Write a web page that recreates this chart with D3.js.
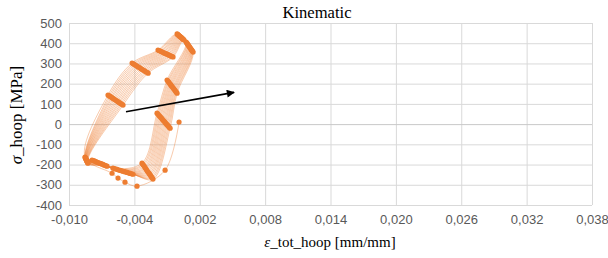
<!DOCTYPE html>
<html>
<head>
<meta charset="utf-8">
<script src="https://cdn.jsdelivr.net/npm/d3@7"></script>
<style>
  body { margin: 0; background: #fff; }
  svg { display: block; }
</style>
</head>
<body>
<svg id="chart"></svg>
<script>
const width = 608;
const height = 258;

// axis ticks
const xTicks = [-0.010, -0.004, 0.002, 0.008, 0.014, 0.020, 0.026, 0.032, 0.038];
const yTicks = [-400, -300, -200, -100, 0, 100, 200, 300, 400, 500];

// first (compressive) branch before the loops, [strain, stress]
const firstBranch = [
    [0.00010, 10], [-0.00118, -228], [-0.00376, -307], [-0.00486, -287],
    [-0.00550, -267], [-0.00605, -243]
];

// hysteresis cycles, each from the bottom-left corner round the loop
const cycle01 = [[-0.00853, -163], [-0.00642, 144], [-0.00421, 302], [-0.00183, 366], [-0.00008, 446], [0.00075, 406], [-0.00100, 218], [-0.00192, 54], [-0.00330, -193], [-0.00596, -218], [-0.00789, -178]];
const cycle02 = [[-0.00851, -165], [-0.00632, 140], [-0.00411, 298], [-0.00173, 364], [-0.00003, 444], [0.00080, 402], [-0.00093, 213], [-0.00183, 49], [-0.00323, -199], [-0.00583, -220], [-0.00779, -180]];
const cycle03 = [[-0.00849, -167], [-0.00622, 137], [-0.00400, 295], [-0.00163, 361], [0.00001, 442], [0.00084, 399], [-0.00087, 209], [-0.00175, 43], [-0.00316, -204], [-0.00570, -222], [-0.00769, -182]];
const cycle04 = [[-0.00847, -169], [-0.00612, 133], [-0.00390, 291], [-0.00153, 359], [0.00006, 440], [0.00089, 395], [-0.00080, 204], [-0.00166, 38], [-0.00308, -210], [-0.00557, -224], [-0.00759, -184]];
const cycle05 = [[-0.00845, -172], [-0.00603, 130], [-0.00379, 288], [-0.00144, 356], [0.00010, 437], [0.00093, 392], [-0.00074, 199], [-0.00158, 33], [-0.00301, -216], [-0.00543, -227], [-0.00750, -187]];
const cycle06 = [[-0.00843, -174], [-0.00593, 126], [-0.00369, 284], [-0.00134, 354], [0.00015, 435], [0.00098, 388], [-0.00067, 195], [-0.00149, 28], [-0.00294, -221], [-0.00530, -229], [-0.00740, -189]];
const cycle07 = [[-0.00841, -176], [-0.00583, 123], [-0.00358, 281], [-0.00124, 351], [0.00019, 433], [0.00102, 385], [-0.00061, 190], [-0.00141, 22], [-0.00287, -227], [-0.00517, -231], [-0.00730, -191]];
const cycle08 = [[-0.00839, -178], [-0.00573, 119], [-0.00348, 277], [-0.00114, 349], [0.00024, 431], [0.00107, 381], [-0.00054, 186], [-0.00132, 17], [-0.00280, -233], [-0.00504, -233], [-0.00720, -193]];
const cycle09 = [[-0.00838, -180], [-0.00563, 115], [-0.00337, 273], [-0.00104, 347], [0.00029, 429], [0.00112, 377], [-0.00047, 181], [-0.00123, 12], [-0.00272, -238], [-0.00491, -235], [-0.00710, -195]];
const cycle10 = [[-0.00836, -182], [-0.00553, 112], [-0.00326, 270], [-0.00094, 344], [0.00033, 427], [0.00116, 374], [-0.00041, 176], [-0.00115, 6], [-0.00265, -244], [-0.00478, -237], [-0.00700, -197]];
const cycle11 = [[-0.00834, -184], [-0.00543, 108], [-0.00316, 266], [-0.00084, 342], [0.00038, 425], [0.00121, 370], [-0.00034, 172], [-0.00106, 1], [-0.00258, -249], [-0.00465, -239], [-0.00690, -199]];
const cycle12 = [[-0.00832, -187], [-0.00534, 105], [-0.00305, 263], [-0.00075, 339], [0.00042, 422], [0.00125, 367], [-0.00028, 167], [-0.00098, -4], [-0.00251, -255], [-0.00451, -242], [-0.00681, -202]];
const cycle13 = [[-0.00830, -189], [-0.00524, 101], [-0.00295, 259], [-0.00065, 337], [0.00047, 420], [0.00130, 363], [-0.00021, 162], [-0.00089, -9], [-0.00243, -261], [-0.00438, -244], [-0.00671, -204]];
const cycle14 = [[-0.00828, -191], [-0.00514, 98], [-0.00284, 256], [-0.00055, 334], [0.00051, 418], [0.00134, 360], [-0.00015, 158], [-0.00081, -15], [-0.00236, -266], [-0.00425, -246], [-0.00661, -206]];
const cycle15 = [[-0.00826, -193], [-0.00504, 94], [-0.00274, 252], [-0.00045, 332], [0.00056, 416], [0.00139, 356], [-0.00008, 153], [-0.00072, -20], [-0.00229, -272], [-0.00412, -248], [-0.00651, -208]];

// ratcheting arrow, [strain, stress]
const arrowFrom = [-0.00477, 61];
const arrowTo = [0.00515, 157];

const cycles = [cycle01, cycle02, cycle03, cycle04, cycle05, cycle06, cycle07, cycle08,
    cycle09, cycle10, cycle11, cycle12, cycle13, cycle14, cycle15];
const series = firstBranch.concat(...cycles);

const margin = {top: 23, right: 16, bottom: 53, left: 69};
const orange = "#ED7D31";

const svg = d3.select("#chart")
    .attr("width", width)
    .attr("height", height)
    .style("background", "#fff");

const x = d3.scaleLinear()
    .domain([xTicks[0], xTicks[xTicks.length - 1]])
    .range([margin.left, width - margin.right]);

const y = d3.scaleLinear()
    .domain([yTicks[0], yTicks[yTicks.length - 1]])
    .range([height - margin.bottom, margin.top]);

const locale = d3.formatLocale({decimal: ",", thousands: ".", grouping: [3], currency: ["", ""], minus: "-"});
const fmtX = locale.format(".3f");
const fmtY = locale.format("d");

// grid
svg.append("g")
    .attr("transform", `translate(0,${height - margin.bottom})`)
    .call(d3.axisBottom(x).tickValues(xTicks).tickSize(-(height - margin.top - margin.bottom)).tickFormat(fmtX).tickPadding(10))
    .call(g => g.select(".domain").remove())
    .call(g => g.selectAll(".tick line").attr("stroke", "#d9d9d9"))
    .call(g => g.selectAll(".tick text")
        .attr("fill", "#595959")
        .style("font", "13px 'Liberation Sans', Arial, sans-serif"));

svg.append("g")
    .attr("transform", `translate(${margin.left},0)`)
    .call(d3.axisLeft(y).tickValues(yTicks).tickSize(-(width - margin.left - margin.right)).tickFormat(fmtY).tickPadding(7))
    .call(g => g.select(".domain").remove())
    .call(g => g.selectAll(".tick line").attr("stroke", d => d === 0 ? "#c8c8c8" : "#d9d9d9"))
    .call(g => g.selectAll(".tick text")
        .attr("fill", "#595959")
        .style("font", "13px 'Liberation Sans', Arial, sans-serif"));

// loops
const line = d3.line()
    .x(d => x(d[0]))
    .y(d => y(d[1]))
    .curve(d3.curveCatmullRom.alpha(0.5));

svg.append("path")
    .datum(series)
    .attr("fill", "none")
    .attr("stroke", orange)
    .attr("stroke-opacity", 0.5)
    .attr("stroke-width", 0.8)
    .attr("d", line);

svg.append("g")
    .selectAll("circle")
    .data(series)
    .enter().append("circle")
    .attr("cx", d => x(d[0]))
    .attr("cy", d => y(d[1]))
    .attr("r", 2.6)
    .attr("fill", orange);

// arrow
svg.append("defs").append("marker")
    .attr("id", "head")
    .attr("viewBox", "0 0 10 10")
    .attr("refX", 9)
    .attr("refY", 5)
    .attr("markerWidth", 9)
    .attr("markerHeight", 8)
    .attr("markerUnits", "userSpaceOnUse")
    .attr("orient", "auto")
    .append("path")
    .attr("d", "M0,0L10,5L0,10Z")
    .attr("fill", "#000");

svg.append("line")
    .attr("x1", x(arrowFrom[0]))
    .attr("y1", y(arrowFrom[1]))
    .attr("x2", x(arrowTo[0]))
    .attr("y2", y(arrowTo[1]))
    .attr("stroke", "#000")
    .attr("stroke-width", 1.6)
    .attr("marker-end", "url(#head)");

// titles
const serif = "'Liberation Serif', 'Times New Roman', serif";

svg.append("text")
    .attr("x", 317)
    .attr("y", 18)
    .attr("text-anchor", "middle")
    .attr("textLength", 69)
    .attr("lengthAdjust", "spacingAndGlyphs")
    .style("font", `17px ${serif}`)
    .attr("fill", "#000")
    .text("Kinematic");

const xl = svg.append("text")
    .attr("x", 330)
    .attr("y", 247)
    .attr("text-anchor", "middle")
    .style("font", `15px ${serif}`)
    .attr("fill", "#000");
xl.append("tspan").style("font-style", "italic").text("ε");
xl.append("tspan").text("_tot_hoop [mm/mm]");

const yl = svg.append("text")
    .attr("transform", "translate(22,115) rotate(-90)")
    .attr("text-anchor", "middle")
    .style("font", `17px ${serif}`)
    .attr("fill", "#000");
yl.append("tspan").style("font-style", "italic").text("σ");
yl.append("tspan").text("_hoop [MPa]");
</script>
</body>
</html>
